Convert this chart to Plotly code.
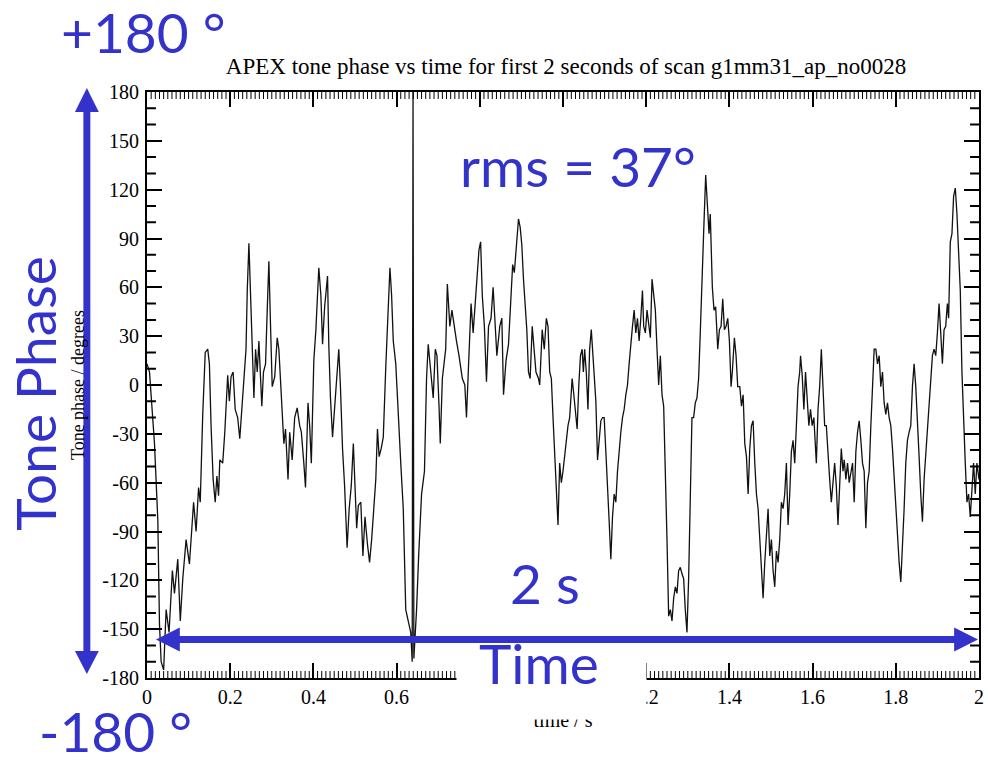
import plotly.graph_objects as go

# ---- data ----
time_s = [
    0.000, 0.006, 0.018, 0.026, 0.030, 0.034, 0.040, 0.046, 0.053, 0.061,
    0.066, 0.074, 0.080, 0.086, 0.094, 0.102, 0.112, 0.118, 0.124, 0.128,
    0.134, 0.140, 0.146, 0.150, 0.154, 0.159, 0.164, 0.168, 0.172, 0.175,
    0.182, 0.187, 0.194, 0.198, 0.202, 0.207, 0.212, 0.218, 0.223, 0.230,
    0.234, 0.238, 0.241, 0.245, 0.249, 0.253, 0.257, 0.261, 0.265, 0.269,
    0.276, 0.280, 0.285, 0.289, 0.293, 0.297, 0.301, 0.307, 0.313, 0.317,
    0.321, 0.325, 0.329, 0.333, 0.339, 0.343, 0.349, 0.355, 0.361, 0.367,
    0.371, 0.377, 0.381, 0.387, 0.391, 0.395, 0.401, 0.406, 0.413, 0.418,
    0.422, 0.427, 0.434, 0.437, 0.441, 0.446, 0.453, 0.461, 0.465, 0.470,
    0.475, 0.481, 0.486, 0.491, 0.496, 0.500, 0.504, 0.508, 0.514, 0.519,
    0.524, 0.530, 0.535, 0.540, 0.546, 0.550, 0.554, 0.558, 0.563, 0.568,
    0.574, 0.579, 0.584, 0.588, 0.592, 0.598, 0.604, 0.610, 0.616, 0.622,
    0.628, 0.634, 0.6375, 0.6395, 0.6415, 0.648, 0.653, 0.660, 0.667, 0.672,
    0.676, 0.683, 0.688, 0.693, 0.697, 0.702, 0.705, 0.710, 0.714, 0.718,
    0.722, 0.728, 0.733, 0.738, 0.744, 0.750, 0.758, 0.764, 0.768, 0.772,
    0.776, 0.779, 0.784, 0.790, 0.794, 0.798, 0.802, 0.806, 0.811, 0.816,
    0.821, 0.827, 0.832, 0.836, 0.841, 0.848, 0.853, 0.857, 0.863, 0.869,
    0.875, 0.879, 0.883, 0.887, 0.893, 0.897, 0.901, 0.905, 0.909, 0.913,
    0.917, 0.921, 0.926, 0.930, 0.935, 0.941, 0.944, 0.950, 0.955, 0.960,
    0.964, 0.968, 0.972, 0.976, 0.980, 0.984, 0.988, 0.992, 0.996, 1.000,
    1.006, 1.012, 1.016, 1.022, 1.026, 1.030, 1.034, 1.038, 1.042, 1.046,
    1.049, 1.052, 1.056, 1.060, 1.064, 1.068, 1.071, 1.075, 1.079, 1.083,
    1.087, 1.091, 1.095, 1.099, 1.103, 1.107, 1.111, 1.115, 1.119, 1.123,
    1.127, 1.131, 1.135, 1.139, 1.143, 1.147, 1.151, 1.155, 1.159, 1.163,
    1.167, 1.171, 1.175, 1.179, 1.183, 1.187, 1.191, 1.194, 1.198, 1.202,
    1.206, 1.210, 1.214, 1.218, 1.222, 1.226, 1.230, 1.234, 1.238, 1.242,
    1.246, 1.250, 1.254, 1.258, 1.262, 1.266, 1.270, 1.274, 1.278, 1.282,
    1.286, 1.290, 1.294, 1.298, 1.302, 1.306, 1.310, 1.314, 1.318, 1.322,
    1.326, 1.330, 1.334, 1.338, 1.343, 1.347, 1.351, 1.354, 1.356, 1.359,
    1.363, 1.367, 1.372, 1.376, 1.380, 1.384, 1.388, 1.392, 1.396, 1.400,
    1.404, 1.407, 1.412, 1.416, 1.420, 1.425, 1.429, 1.433, 1.437, 1.441,
    1.445, 1.449, 1.453, 1.457, 1.461, 1.465, 1.469, 1.473, 1.477, 1.481,
    1.485, 1.489, 1.493, 1.497, 1.501, 1.505, 1.509, 1.513, 1.517, 1.521,
    1.525, 1.529, 1.533, 1.537, 1.541, 1.545, 1.549, 1.553, 1.557, 1.561,
    1.565, 1.569, 1.571, 1.575, 1.579, 1.583, 1.587, 1.591, 1.595, 1.599,
    1.603, 1.609, 1.613, 1.617, 1.621, 1.625, 1.629, 1.633, 1.637, 1.641,
    1.645, 1.649, 1.653, 1.657, 1.661, 1.665, 1.669, 1.673, 1.676, 1.680,
    1.684, 1.688, 1.692, 1.696, 1.700, 1.704, 1.708, 1.712, 1.716, 1.720,
    1.724, 1.728, 1.732, 1.736, 1.740, 1.744, 1.748, 1.752, 1.756, 1.760,
    1.764, 1.768, 1.772, 1.776, 1.780, 1.784, 1.788, 1.792, 1.796, 1.800,
    1.804, 1.808, 1.812, 1.816, 1.820, 1.824, 1.828, 1.832, 1.836, 1.840,
    1.844, 1.848, 1.852, 1.856, 1.860, 1.864, 1.868, 1.872, 1.876, 1.880,
    1.884, 1.888, 1.892, 1.896, 1.900, 1.904, 1.908, 1.912, 1.916, 1.920,
    1.924, 1.927, 1.931, 1.935, 1.939, 1.943, 1.947, 1.951, 1.955, 1.959,
    1.963, 1.967, 1.971, 1.975, 1.979, 1.983, 1.987, 1.991, 1.995, 2.000,
]
phase_deg = [
    13, 8, -36, -83, -147, -170, -175, -138, -152, -114,
    -128, -107, -145, -119, -95, -110, -72, -90, -63, -72,
    -18, 20, 22, 13, -25, -58, -72, -56, -68, -46,
    -48, -29, 6, -10, 5, 8, -15, -20, -33, -8,
    6, 22, 58, 87, 55, 22, -8, 22, 8, 27,
    -13, 8, 13, 46, 76, 36, -1, 5, 29, 22,
    4, -18, -36, -27, -58, -29, -46, -20, -14, -25,
    -29, -48, -63, -11, -25, -48, 15, 34, 72, 55,
    25, 48, 67, 25, -8, -32, -6, 22, -1, -39,
    -62, -100, -76, -62, -36, -62, -88, -74, -72, -105,
    -81, -98, -109, -95, -72, -58, -27, -44, -39, -32,
    11, 39, 72, 55, 27, 13, -20, -48, -76, -138,
    -145, -152, -170, 180, -168, -138, -105, -67, -53, 4,
    25, 8, -8, 22, 18, -13, -36, 4, 15, 22,
    62, 36, 46, 36, 27, 18, 4, 0, -20, 6,
    34, 50, 32, 55, 74, 83, 88, 55, 36, 2,
    36, 41, 60, 41, 18, 36, 41, -6, 15, 25,
    60, 74, 69, 83, 102, 97, 86, 65, 50, 34,
    8, 4, 36, 22, 8, 4, 0, 34, 22, 41,
    36, 8, 4, -20, -41, -62, -86, -48, -60, -53,
    -39, -25, -20, 4, -6, -18, -27, 0, 18, 22,
    8, 22, 8, -15, 22, 34, 22, 11, -10, -46,
    -36, -22, -20, -20, -41, -67, -84, -107, -81, -67,
    -72, -53, -39, -29, -20, -15, -6, 0, 13, 27,
    36, 46, 32, 41, 27, 41, 58, 36, 32, 46,
    36, 29, 65, 55, 46, 22, 0, 18, -6, -13,
    -48, -95, -142, -138, -145, -131, -124, -128, -114, -112,
    -116, -119, -138, -152, -119, -72, -20, -20, -11, -8,
    4, 32, 58, 93, 129, 109, 93, 105, 86, 60,
    46, 48, 22, 34, 36, 53, 34, 36, 41, 27,
    -1, 8, 29, 18, -1, -1, -13, -6, -36, -44,
    -67, -39, -25, -22, -48, -67, -76, -95, -114, -131,
    -109, -91, -76, -105, -95, -114, -124, -102, -109, -95,
    -72, -76, -67, -48, -86, -67, -41, -34, -48, -25,
    -1, 8, 18, 6, -15, 8, -11, -25, -15, -25,
    -20, -48, -15, -1, 22, -1, -25, -25, -44, -58,
    -72, -62, -48, -62, -86, -62, -39, -53, -46, -58,
    -48, -60, -53, -48, -72, -41, -29, -22, -34, -48,
    -53, -88, -60, -53, -25, -1, 22, 22, 13, 18,
    -1, 8, -11, -18, -11, -20, -25, -39, -58, -72,
    -91, -109, -121, -102, -76, -48, -34, -29, -25, -1,
    13, -1, -20, -44, -67, -84, -58, -44, -29, -13,
    4, 18, 22, 18, 32, 50, 32, 13, 34, 36,
    50, 41, 88, 93, 116, 121, 105, 81, 58, 8,
    -25, -48, -72, -67, -81, -67, -48, -67, -48, -58,
]

x_tick_vals = [0, 0.2, 0.4, 0.6, 0.8, 1.0, 1.2, 1.4, 1.6, 1.8, 2.0]
x_tick_text = ["0", "0.2", "0.4", "0.6", "0.8", "1", "1.2", "1.4", "1.6", "1.8", "2"]
y_tick_vals = [-180, -150, -120, -90, -60, -30, 0, 30, 60, 90, 120, 150, 180]
y_tick_text = ["-180", "-150", "-120", "-90", "-60", "-30", "0", "30", "60", "90", "120", "150", "180"]
# minor tick positions: every 0.01 s and every 10 degrees
x_minor_vals = [i / 100 for i in range(1, 200) if i % 20 != 0]
y_minor_vals = [v for v in range(-170, 180, 10) if v % 30 != 0]

title_text = "APEX tone phase vs time for first 2 seconds of scan g1mm31_ap_no0028"
x_title = "time / s"
y_title = "Tone phase / degrees"

BLUE = "#3333CC"
SERIF = "Liberation Serif, Times New Roman, serif"
SANS = "Lato, Carlito, Calibri, sans-serif"

# pixel frame of the plot area
W, H = 988, 761
L, R, T, B = 147, 984, 92, 678


def px(x):
    return (x - L) / (R - L)


def py(y):
    return (B - y) / (B - T)


fig = go.Figure()
fig.add_trace(go.Scatter(
    x=time_s, y=phase_deg, mode="lines",
    line=dict(color="#111111", width=1.3),
    showlegend=False, hoverinfo="skip",
))

axis_common = dict(
    showline=True, linecolor="black", linewidth=2, mirror="allticks",
    ticks="inside", tickcolor="black", tickwidth=2, ticklen=15,
    showgrid=False, zeroline=False,
    tickfont=dict(family=SERIF, size=20, color="black"),
)

fig.update_xaxes(
    range=[0, 2], tickmode="array", tickvals=x_tick_vals, ticktext=x_tick_text,
    title=dict(text=x_title, font=dict(family=SERIF, size=20, color="black"), standoff=6),
    ticklabelstandoff=0,
    **axis_common,
)
fig.update_yaxes(
    range=[-180, 180], tickmode="array", tickvals=y_tick_vals, ticktext=y_tick_text,
    title=dict(text=y_title, font=dict(family=SERIF, size=18, color="black"), standoff=13),
    ticklabelstandoff=2,
    **axis_common,
)

shapes = []

# minor ticks (inside, on all four sides), positioned on the axis scales
xl = 7 / (B - T)      # x minor tick length as a fraction of plot height
yl = 9 / (R - L)      # y minor tick length as a fraction of plot width
bottom = " ".join(f"M {v},0 L {v},{xl:.5f}" for v in x_minor_vals)
top = " ".join(f"M {v},1 L {v},{1 - xl:.5f}" for v in x_minor_vals)
left = " ".join(f"M 0,{v} L {yl:.5f},{v}" for v in y_minor_vals)
right = " ".join(f"M 1,{v} L {1 - yl:.5f},{v}" for v in y_minor_vals)
for path in (bottom, top):
    shapes.append(dict(type="path", path=path, xref="x", yref="paper",
                       line=dict(color="black", width=1), layer="above"))
for path in (left, right):
    shapes.append(dict(type="path", path=path, xref="paper", yref="y",
                       line=dict(color="black", width=2), layer="above"))


def tri(points):
    d = "M " + " L ".join(f"{px(a):.5f},{py(b):.5f}" for a, b in points) + " Z"
    return dict(type="path", path=d, xref="paper", yref="paper",
                fillcolor=BLUE, line=dict(width=0), layer="above")


def rect(x0, y0, x1, y1, color=BLUE):
    return dict(type="rect", xref="paper", yref="paper",
                x0=px(x0), x1=px(x1), y0=py(y1), y1=py(y0),
                fillcolor=color, line=dict(width=0), layer="above")


# vertical double arrow
shapes.append(rect(83, 108, 90, 655))
shapes.append(tri([(86.5, 88), (74.5, 112), (98.5, 112)]))
shapes.append(tri([(86.5, 674), (74.5, 651), (98.5, 651)]))
# horizontal double arrow
shapes.append(rect(176, 636, 963, 643))
shapes.append(tri([(156, 639.5), (180, 627.5), (180, 651.5)]))
shapes.append(tri([(983, 639.5), (959, 627.5), (959, 651.5)]))

annotations = [
    # white patch hiding part of the time axis
    dict(x=px(458), y=py(646), xref="paper", yref="paper", xanchor="left", yanchor="top",
         text=" ", showarrow=False, width=189, height=72, bgcolor="white", borderpad=0),
]


def blue_text(txt, cx, cy, angle=0):
    return dict(x=px(cx), y=py(cy), xref="paper", yref="paper", text=txt, showarrow=False,
                xanchor="center", yanchor="middle", textangle=angle,
                font=dict(family=SANS, size=55, color=BLUE))


annotations += [
    blue_text("+180 °", 143, 32),
    blue_text("-180 °", 115, 731),
    blue_text("Tone Phase", 34, 393, -90),
    blue_text("rms = 37°", 581, 166),
    blue_text("2 s", 547, 583),
    blue_text("Time", 541, 663),
]

fig.update_layout(
    width=W, height=H,
    margin=dict(l=L, r=W - R, t=T, b=H - B),
    paper_bgcolor="white", plot_bgcolor="white",
    title=dict(text=title_text, x=566 / W, y=1 - 66 / H, xanchor="center", yanchor="middle",
               font=dict(family=SERIF, size=23, color="black")),
    shapes=shapes, annotations=annotations, showlegend=False,
)

fig.write_html("out.html")
